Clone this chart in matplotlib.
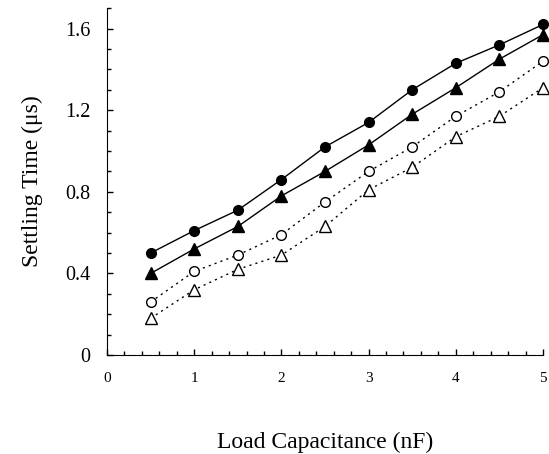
import matplotlib.pyplot as plt
from matplotlib.ticker import MultipleLocator

plt.rcParams['font.family'] = ['Liberation Serif', 'DejaVu Serif']

# load capacitance (nF)
cap = [0.5, 1.0, 1.5, 2.0, 2.5, 3.0, 3.5, 4.0, 4.5, 5.0]

# settling time (us) for the four curves
t_fill_circle = [0.50, 0.61, 0.71, 0.86, 1.02, 1.14, 1.30, 1.43, 1.52, 1.62]
t_fill_tri = [0.40, 0.52, 0.63, 0.78, 0.90, 1.03, 1.18, 1.31, 1.45, 1.57]
t_open_circle = [0.26, 0.41, 0.49, 0.59, 0.75, 0.90, 1.02, 1.17, 1.29, 1.44]
t_open_tri = [0.18, 0.32, 0.42, 0.49, 0.63, 0.81, 0.92, 1.07, 1.17, 1.31]

fig = plt.figure(figsize=(5.49, 4.54), dpi=100)
ax = fig.add_axes([0.195, 0.218, 0.794, 0.764])

ax.plot(cap, t_fill_circle, color='black', lw=1.0, marker='o', ms=7,
        mfc='black', mec='black', clip_on=False)
ax.plot(cap, t_fill_tri, color='black', lw=1.0, marker='^', ms=8,
        mfc='black', mec='black', clip_on=False)
ax.plot(cap, t_open_circle, color='black', lw=1.0, dashes=(1.5, 3), marker='o', ms=7,
        mfc='white', mec='black', mew=1.0, clip_on=False)
ax.plot(cap, t_open_tri, color='black', lw=1.0, dashes=(1.5, 3), marker='^', ms=8,
        mfc='white', mec='black', mew=1.0, clip_on=False)

ax.set_xlim(0, 5)
ax.set_ylim(0, 1.7)
ax.xaxis.set_major_locator(MultipleLocator(1))
ax.xaxis.set_minor_locator(MultipleLocator(0.2))
ax.yaxis.set_minor_locator(MultipleLocator(0.1))
ax.set_yticks([0, 0.4, 0.8, 1.2, 1.6])
ax.set_yticklabels(['0', '0.4', '0.8', '1.2', '1.6'])

ax.spines['top'].set_visible(False)
ax.spines['right'].set_visible(False)
ax.tick_params(which='both', direction='in', color='black', width=1)
ax.tick_params(which='major', length=4)
ax.tick_params(which='minor', length=3)
ax.tick_params(axis='x', labelsize=11, pad=12)
ax.tick_params(axis='y', labelsize=14.5, pad=12)

ax.set_xlabel('Load Capacitance (nF)', fontsize=17, labelpad=34)
ax.set_ylabel('Settling Time (μs)', fontsize=17, labelpad=16)

fig.savefig('out.png', dpi=100)
